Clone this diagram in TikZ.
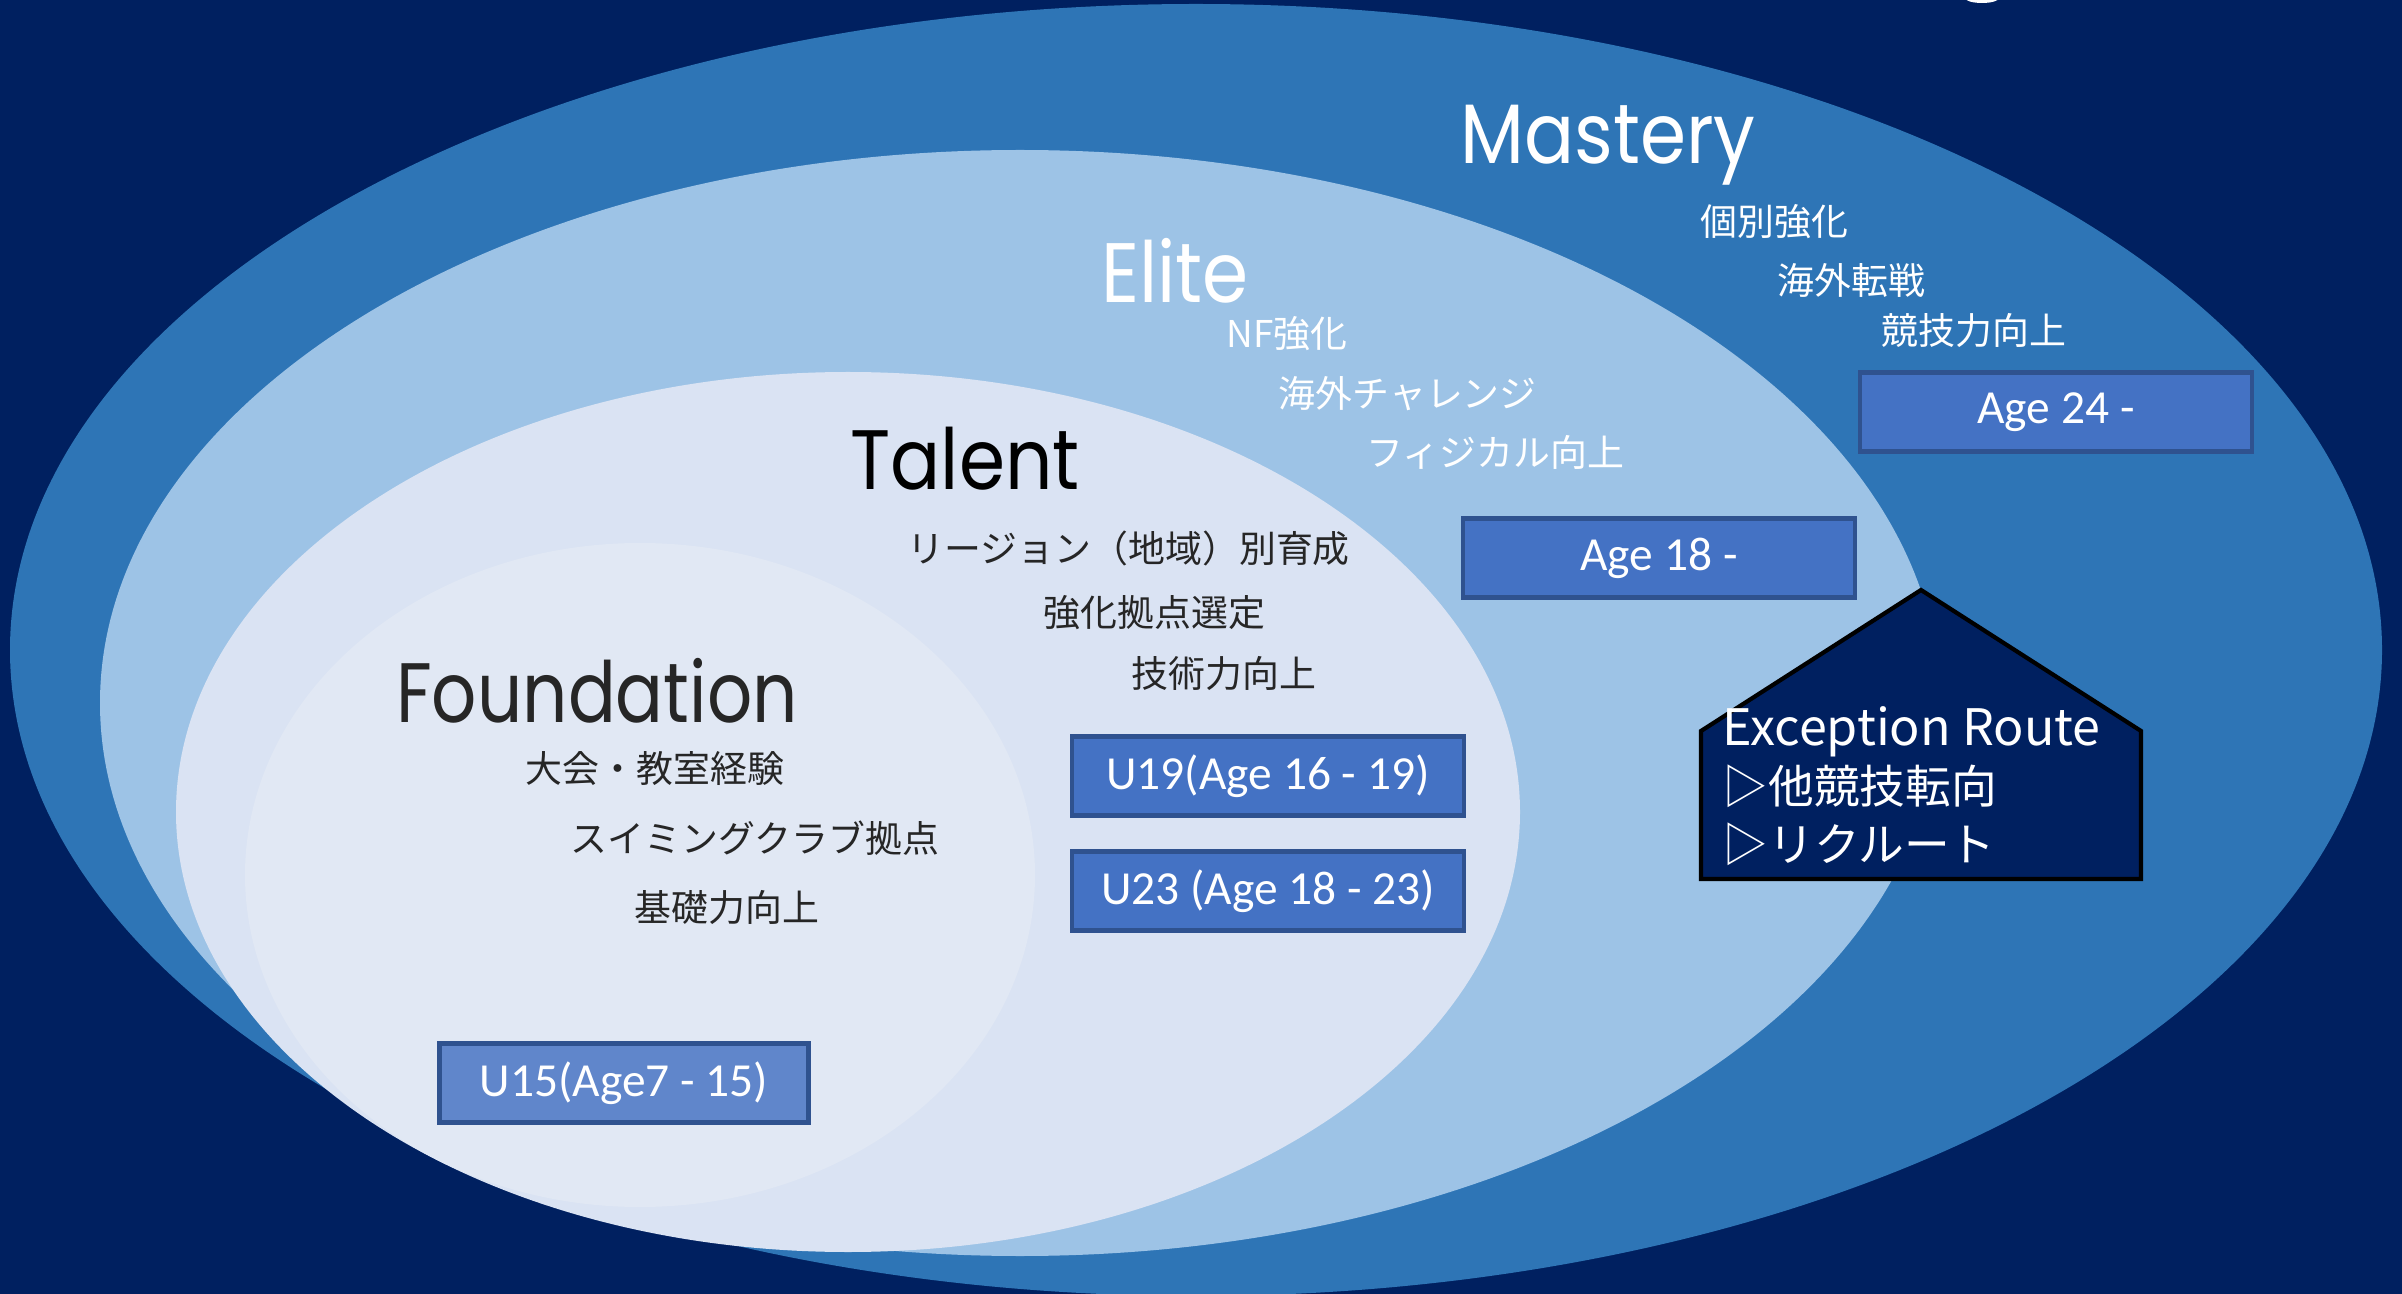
\documentclass[tikz,border=0pt]{standalone}
\usepackage{fontspec}
\usepackage{graphicx}
\setmainfont{Noto Sans CJK JP}
\newfontfamily\titlefont{Poppins}
\newfontfamily\boxfont{Carlito}
\usetikzlibrary{positioning}

\definecolor{navy}{HTML}{002060}
\definecolor{masteryblue}{HTML}{2E75B6}
\definecolor{eliteblue}{HTML}{9DC3E6}
\definecolor{talentblue}{HTML}{DAE3F3}
\definecolor{foundblue}{HTML}{E1E8F4}
\definecolor{boxblue}{HTML}{4472C4}
\definecolor{boxedge}{HTML}{2F528F}
\definecolor{lightbox}{HTML}{6086CB}
\definecolor{darktext}{HTML}{262626}

\tikzset{
  stagetitle/.style={anchor=base, inner sep=0pt, font=\fontsize{24}{28}\selectfont\titlefont},
  stageitem/.style={anchor=west, inner sep=0pt, font=\fontsize{10.5}{12}\selectfont},
  agebox/.style={draw=boxedge, line width=1.2pt, fill=boxblue, text=white,
    minimum width=3.92cm, minimum height=0.79cm, inner sep=0pt,
    font=\fontsize{13.5}{16}\selectfont\boxfont}
}

\begin{document}
\begin{tikzpicture}
% background and frame
\useasboundingbox (0,0) rectangle (24.02,-12.94);
\clip (0,0) rectangle (24.02,-12.94);
\fill[navy] (0,0) rectangle (24.02,-12.94);
\fill[white] (19.82,0.02) ellipse [x radius=0.17, y radius=0.05];

% the four nested stages
\fill[masteryblue] (11.96,-6.50) ellipse [x radius=11.86, y radius=6.46];
\fill[eliteblue] (10.20,-7.03) ellipse [x radius=9.20, y radius=5.53];
\fill[talentblue] (8.48,-8.12) ellipse [x radius=6.72, y radius=4.40];
\fill[foundblue] (6.40,-8.75) ellipse [x radius=3.95, y radius=3.32];

% Mastery
\node[stagetitle, text=white] (mastery) at (16.08,-1.64) {\scalebox{0.88}[1]{Mastery}};
\node[stageitem, text=white] (mastery1) at (17.00,-2.22) {個別強化};
\node[stageitem, text=white] (mastery2) at (17.77,-2.80) {海外転戦};
\node[stageitem, text=white] (mastery3) at (18.81,-3.31) {競技力向上};
\node[agebox] (age24) at (20.56,-4.12) {Age 24 -};

% Elite
\node[stagetitle, text=white] (elite) at (11.75,-3.03) {\scalebox{0.88}[1]{Elite}};
\node[stageitem, text=white] (elite1) at (12.26,-3.34) {NF強化};
\node[stageitem, text=white] (elite2) at (12.78,-3.94) {海外チャレンジ};
\node[stageitem, text=white] (elite3) at (13.66,-4.52) {フィジカル向上};
\node[agebox] (age18) at (16.59,-5.58) {Age 18 -};

% Talent
\node[stagetitle, text=black] (talent) at (9.65,-4.90) {\scalebox{0.88}[1]{Talent}};
\node[stageitem, text=darktext] (talent1) at (9.07,-5.48) {リージョン（地域）別育成};
\node[stageitem, text=darktext] (talent2) at (10.43,-6.13) {強化拠点選定};
\node[stageitem, text=darktext] (talent3) at (11.31,-6.74) {技術力向上};
\node[agebox] (u19) at (12.68,-7.76) {U19(Age 16 - 19)};
\node[agebox] (u23) at (12.68,-8.91) {U23 (Age 18 - 23)};

% Foundation
\node[stagetitle, text=darktext] (foundation) at (5.97,-7.22) {\scalebox{0.84}[1]{Foundation}};
\node[stageitem, text=darktext] (found1) at (5.25,-7.69) {大会・教室経験};
\node[stageitem, text=darktext] (found2) at (5.70,-8.38) {スイミングクラブ拠点};
\node[stageitem, text=darktext] (found3) at (6.34,-9.08) {基礎力向上};
\node[agebox, fill=lightbox, minimum width=3.69cm] (u15) at (6.24,-10.83) {U15(Age7 - 15)};

% Exception Route house
\draw[fill=navy, draw=black, line width=1.2pt] (19.21,-5.90) -- (21.41,-7.31) -- (21.41,-8.79)
  -- (17.01,-8.79) -- (17.01,-7.31) -- cycle;
\node[anchor=north west, inner sep=0pt, text=white, align=left,
  font=\fontsize{13}{16.5}\selectfont] (exception) at (17.22,-7.06)
  {{\fontsize{14.3}{16.5}\selectfont Exception Route}\\▷他競技転向\\▷リクルート};
\end{tikzpicture}
\end{document}
